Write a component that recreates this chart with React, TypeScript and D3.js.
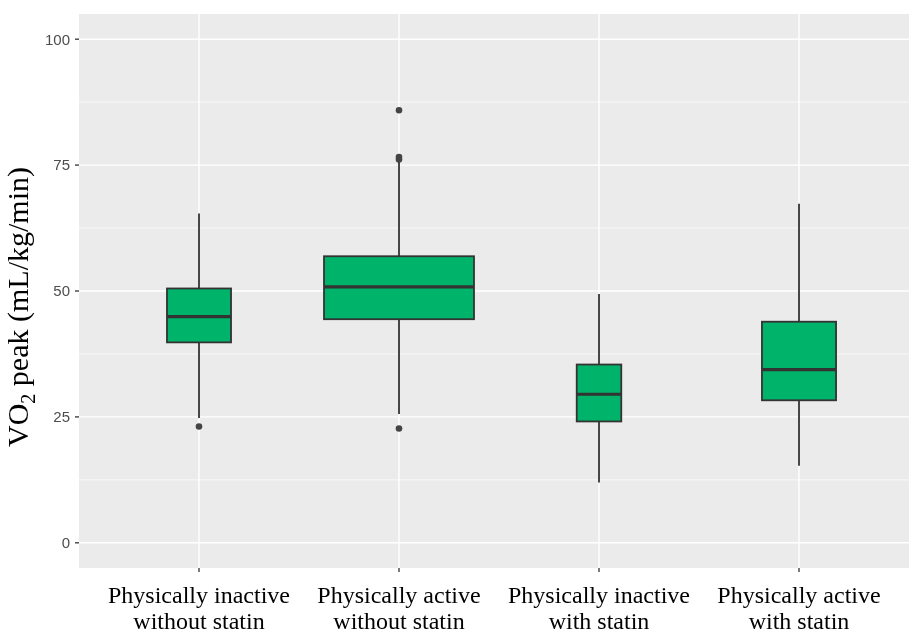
import React, { useEffect, useRef } from 'react';
import * as d3 from 'd3';

// groups shown on the x axis (two lines each)
const groups = [
  'Physically inactive|without statin',
  'Physically active|without statin',
  'Physically inactive|with statin',
  'Physically active|with statin',
];

// box statistics
const lowerWhisker = [24.8, 25.6, 12.0, 15.3];
const q1 = [39.8, 44.4, 24.1, 28.3];
const median = [44.9, 50.8, 29.5, 34.4];
const q3 = [50.5, 56.9, 35.4, 43.9];
const upperWhisker = [65.4, 75.7, 49.4, 67.3];
// used for varwidth (box width ~ sqrt(n))
const sampleSize = [62, 340, 30, 83];
const outliers = [[23.1], [22.7, 76.1, 76.6, 85.9], [], []];

const yTicks = [0, 25, 50, 75, 100];
const yMinor = [12.5, 37.5, 62.5, 87.5];

const App = () => {
  const ref = useRef<SVGSVGElement>(null);

  useEffect(() => {
    const width = 909;
    const height = 634;
    const margin = { top: 14, right: -10, bottom: 66, left: 79 };

    const svg = d3.select(ref.current);
    svg.selectAll('*').remove();

    const x = d3.scalePoint<string>()
      .domain(groups)
      .range([margin.left, width - margin.right])
      .padding(0.6);
    const step = x.step();

    const y = d3.scaleLinear()
      .domain([-5, 105])
      .range([height - margin.bottom, margin.top]);

    const maxSqrt = d3.max(sampleSize, n => Math.sqrt(n)) as number;
    const boxWidth = (i: number) => 0.75 * step * Math.sqrt(sampleSize[i]) / maxSqrt;

    // panel
    svg.append('rect')
      .attr('x', margin.left)
      .attr('y', margin.top)
      .attr('width', width - margin.right - margin.left)
      .attr('height', height - margin.bottom - margin.top)
      .attr('fill', '#EBEBEB');

    // grid
    svg.append('g').selectAll('line')
      .data(yMinor)
      .join('line')
      .attr('x1', margin.left).attr('x2', width - margin.right)
      .attr('y1', d => y(d)).attr('y2', d => y(d))
      .attr('stroke', '#fff').attr('stroke-width', 0.7);
    svg.append('g').selectAll('line')
      .data(yTicks)
      .join('line')
      .attr('x1', margin.left).attr('x2', width - margin.right)
      .attr('y1', d => y(d)).attr('y2', d => y(d))
      .attr('stroke', '#fff').attr('stroke-width', 1.4);
    svg.append('g').selectAll('line')
      .data(groups)
      .join('line')
      .attr('x1', d => x(d)!).attr('x2', d => x(d)!)
      .attr('y1', margin.top).attr('y2', height - margin.bottom)
      .attr('stroke', '#fff').attr('stroke-width', 1.4);

    // boxes
    const box = svg.append('g').selectAll('g')
      .data(groups)
      .join('g');

    box.append('line')
      .attr('x1', d => x(d)!).attr('x2', d => x(d)!)
      .attr('y1', (d, i) => y(q3[i])).attr('y2', (d, i) => y(upperWhisker[i]))
      .attr('stroke', '#333').attr('stroke-width', 1.8);
    box.append('line')
      .attr('x1', d => x(d)!).attr('x2', d => x(d)!)
      .attr('y1', (d, i) => y(q1[i])).attr('y2', (d, i) => y(lowerWhisker[i]))
      .attr('stroke', '#333').attr('stroke-width', 1.8);
    box.append('rect')
      .attr('x', (d, i) => x(d)! - boxWidth(i) / 2)
      .attr('width', (d, i) => boxWidth(i))
      .attr('y', (d, i) => y(q3[i]))
      .attr('height', (d, i) => y(q1[i]) - y(q3[i]))
      .attr('fill', '#00B36A')
      .attr('stroke', '#333').attr('stroke-width', 1.8);
    box.append('line')
      .attr('x1', (d, i) => x(d)! - boxWidth(i) / 2)
      .attr('x2', (d, i) => x(d)! + boxWidth(i) / 2)
      .attr('y1', (d, i) => y(median[i])).attr('y2', (d, i) => y(median[i]))
      .attr('stroke', '#333').attr('stroke-width', 3.2);
    box.selectAll('circle')
      .data((d, i) => outliers[i].map(v => ({ g: d, v })))
      .join('circle')
      .attr('cx', d => x(d.g)!)
      .attr('cy', d => y(d.v))
      .attr('r', 3.3)
      .attr('fill', '#444');

    // y axis
    const yAxis = svg.append('g');
    yAxis.selectAll('line')
      .data(yTicks)
      .join('line')
      .attr('x1', margin.left - 4).attr('x2', margin.left)
      .attr('y1', d => y(d)).attr('y2', d => y(d))
      .attr('stroke', '#333').attr('stroke-width', 1.3);
    yAxis.selectAll('text')
      .data(yTicks)
      .join('text')
      .attr('x', margin.left - 9)
      .attr('y', d => y(d))
      .attr('dy', '0.36em')
      .attr('text-anchor', 'end')
      .attr('font-family', 'Liberation Sans, Arial, sans-serif')
      .attr('font-size', 15)
      .attr('fill', '#4D4D4D')
      .text(d => d);

    // x axis
    const xAxis = svg.append('g');
    xAxis.selectAll('line')
      .data(groups)
      .join('line')
      .attr('x1', d => x(d)!).attr('x2', d => x(d)!)
      .attr('y1', height - margin.bottom).attr('y2', height - margin.bottom + 4)
      .attr('stroke', '#333').attr('stroke-width', 1.3);
    const labels = xAxis.selectAll('text')
      .data(groups)
      .join('text')
      .attr('text-anchor', 'middle')
      .attr('font-family', 'Liberation Serif, Times New Roman, serif')
      .attr('font-size', 24)
      .attr('fill', '#000');
    labels.selectAll('tspan')
      .data(d => d.split('|').map(t => ({ g: d, t })))
      .join('tspan')
      .attr('x', d => x(d.g)!)
      .attr('y', (d, i) => 603 + i * 26)
      .text(d => d.t);

    // y title
    const title = svg.append('text')
      .attr('transform', 'translate(28,307) rotate(-90)')
      .attr('text-anchor', 'middle')
      .attr('font-family', 'Liberation Serif, Times New Roman, serif')
      .attr('font-size', 30)
      .attr('fill', '#000');
    title.append('tspan').text('VO');
    title.append('tspan').attr('font-size', 20).attr('dy', 7).text('2');
    title.append('tspan').attr('dy', -7).text(' peak (mL/kg/min)');
  }, []);

  return (
    <div style={{ position: 'fixed', left: 0, top: 0 }}>
      <svg ref={ref} width={909} height={634} style={{ display: 'block' }} />
    </div>
  );
};

export default App;
